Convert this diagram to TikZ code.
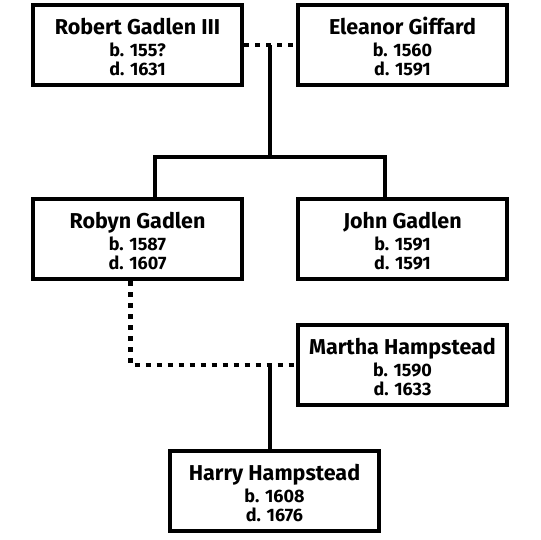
\documentclass[tikz,border=0pt]{standalone}
\usepackage{fontspec}
\setmainfont{Fira Sans}
\usetikzlibrary{positioning, calc}

\newcommand{\namesize}{\fontsize{21.5}{22}\selectfont}
\newcommand{\datesize}{\fontsize{18}{18.5}\selectfont}
\newcommand{\personlabel}[3]{{\namesize\rule{0pt}{20pt}#1}\\[4pt]b. #2\\d. #3}

\begin{document}
\begin{tikzpicture}[x=1pt, y=1pt,
        node distance=52pt and 52pt,
        personbox/.style={rectangle, draw=black, fill=white, line width=4pt, minimum width=209pt, minimum height=80pt, align=center, inner sep=2pt, font=\bfseries\datesize},
        marriage/.style={line width=4.5pt, dash pattern=on 5pt off 6pt},
        descent/.style={line width=4pt}
        ]
        \useasboundingbox (0,0) rectangle (540,-540);

        % Parents
        \node (robert) [personbox] at (137.5,-45) {\personlabel{Robert Gadlen III}{155?}{1631}};
        \node (eleanor) [personbox, right=of robert] {\personlabel{Eleanor Giffard}{1560}{1591}};

        % Children
        \node (robyn) [personbox, below=110pt of robert] {\personlabel{Robyn Gadlen}{1587}{1607}};
        \node (john) [personbox, below=110pt of eleanor] {\personlabel{John Gadlen}{1591}{1591}};

        % Spouse and grandchild
        \node (martha) [personbox, below=42pt of john] {\personlabel{Martha Hampstead}{1590}{1633}};
        \node (harry) [personbox] at (274.5,-491) {\personlabel{Harry Hampstead}{1608}{1676}};

        % Marriage lines
        \coordinate (m1) at ($(robert.east)!0.5!(eleanor.west)$);
        \coordinate (m2) at (martha.west -| m1);
        \draw [marriage] (robert.east) -- (eleanor.west);
        \draw [marriage] ([xshift=-7pt]robyn.south) |- (martha.west);

        % Descent lines
        \coordinate (fork) at ([yshift=-112pt]m1);
        \coordinate (forkl) at ([xshift=-115pt]fork);
        \coordinate (forkr) at ([xshift=115pt]fork);
        \draw [descent] (m1) -- (fork);
        \draw [descent] (forkl |- robyn.north) -- (forkl) -- (forkr) -- (forkr |- john.north);
        \draw [descent] (m2) -- (m2 |- harry.north);

    \end{tikzpicture}
\end{document}
